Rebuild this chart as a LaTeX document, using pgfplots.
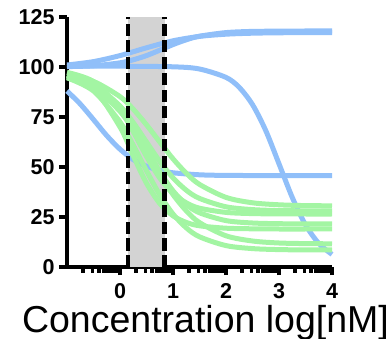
\documentclass[border=0pt]{standalone}
\usepackage{pgfplots}
\pgfplotsset{compat=1.18}
\usepackage{fontspec}
\setmainfont{Liberation Sans}
\definecolor{cblue}{RGB}{144,191,249}
\definecolor{cgreen}{RGB}{163,245,163}
\definecolor{cgray}{RGB}{211,211,211}
\begin{document}
\begin{tikzpicture}
\begin{axis}[
  scale only axis, width=265pt, height=250pt,
  xmin=-1, xmax=4, ymin=0, ymax=125,
  axis x line*=bottom, axis y line*=left,
  axis line style={line width=4.5pt, black},
  xtick={0,1,2,3,4},
  minor xtick={-0.699,-0.523,-0.398,-0.301,-0.222,-0.155,-0.097,-0.046,
    0.301,0.477,0.602,0.699,0.778,0.845,0.903,0.954,
    1.301,1.477,1.602,1.699,1.778,1.845,1.903,1.954,
    2.301,2.477,2.602,2.699,2.778,2.845,2.903,2.954,
    3.301,3.477,3.602,3.699,3.778,3.845,3.903,3.954},
  ytick={0,25,50,75,100,125},
  tick align=outside,
  major tick length=8pt, minor tick length=5.5pt,
  every tick/.style={line width=3.5pt, black},
  /pgf/number format/assume math mode=true,
  tick label style={font=\fontsize{21.5}{24}\selectfont\bfseries},
  xticklabel style={yshift=-5pt},
  yticklabel style={xshift=-1pt},
  xlabel={Concentration log[nM]},
  xlabel style={font=\fontsize{37.5}{40}\selectfont, at={(rel axis cs:0.5,0)}, anchor=base, yshift=-65pt, xshift=6pt},
  clip=false,
]
\addplot[draw=none, fill=cgray, forget plot] coordinates {(0.147,0) (0.844,0) (0.844,125) (0.147,125)} -- cycle;
% blue curves
\addplot[cblue, line width=5pt, smooth] coordinates {
(-1,101.0) (-0.5,102.7) (0,105.7) (0.5,109.6) (1,113.1) (1.5,115.3) (2,116.4) (2.5,116.9) (3,117.1) (3.5,117.2) (4,117.2)};
\addplot[cblue, line width=5pt, smooth] coordinates {
(-1,100.2) (-0.5,100.6) (0,102.1) (0.25,103.6) (0.5,105.7) (0.75,108.4) (1,111.2) (1.25,113.6) (1.5,115.4) (2,117.2) (2.5,117.8) (3,117.9) (3.5,118.0) (4,118.0)};
\addplot[cblue, line width=5pt, smooth] coordinates {
(-1,100.5) (0,100.4) (1,100.1) (1.5,99.0) (2,94.8) (2.25,89.8) (2.5,81.2) (2.75,68.2) (3,51.6) (3.25,34.8) (3.5,21.1) (3.75,11.8) (4,6.3)};
\addplot[cblue, line width=5pt, smooth] coordinates {
(-1,88.0) (-0.75,81.5) (-0.5,73.7) (-0.25,65.7) (0,58.9) (0.25,53.7) (0.5,50.4) (0.75,48.3) (1,47.1) (1.5,46.1) (2,45.8) (3,45.7) (4,45.7)};
% green curves
\addplot[cgreen, line width=5pt, smooth] coordinates {
(-1,96.1) (-0.5,92.8) (0,85.2) (0.25,78.9) (0.5,71.1) (0.75,62.5) (1,54.1) (1.25,46.9) (1.5,41.3) (2,34.8) (2.5,32.1) (3,31.1) (3.5,30.7) (4,30.6)};
\addplot[cgreen, line width=5pt, smooth] coordinates {
(-1,94.9) (-0.5,90.7) (0,80.4) (0.25,72.2) (0.5,62.5) (0.75,52.8) (1,44.6) (1.25,38.4) (1.5,34.3) (2,30.1) (2.5,28.7) (3,28.2) (3.5,28.1) (4,28.0)};
\addplot[cgreen, line width=5pt, smooth] coordinates {
(-1,97.3) (-0.5,92.7) (0,79.0) (0.25,67.7) (0.5,55.3) (0.75,44.5) (1,36.8) (1.25,32.1) (1.5,29.4) (2,27.3) (2.5,26.7) (3,26.55) (3.5,26.5) (4,26.5)};
\addplot[cgreen, line width=5pt, smooth] coordinates {
(-1,95.3) (-0.5,91.4) (0,80.4) (0.25,70.8) (0.5,59.25) (0.75,47.7) (1,38.1) (1.25,31.3) (1.5,27.1) (2,23.2) (2.5,22.0) (3,21.65) (3.5,21.55) (4,21.5)};
\addplot[cgreen, line width=5pt, smooth] coordinates {
(-1,95.9) (-0.5,89.3) (0,70.0) (0.25,55.6) (0.5,41.9) (0.75,31.8) (1,25.6) (1.25,22.3) (1.5,20.6) (2,19.4) (2.5,19.1) (3,19.0) (3.5,19.0) (4,19.0)};
\addplot[cgreen, line width=5pt, smooth] coordinates {
(-1,95.6) (-0.5,90.1) (0,77.8) (0.25,68.4) (0.5,57.5) (0.75,46.3) (1,36.2) (1.25,28.1) (1.5,22.2) (2,15.6) (2.5,13.0) (3,12.0) (3.5,11.7) (4,11.6)};
\addplot[cgreen, line width=5pt, smooth] coordinates {
(-1,94.6) (-0.5,88.0) (0,72.5) (0.25,60.9) (0.5,48.1) (0.75,36.1) (1,26.5) (1.25,19.6) (1.5,15.1) (2,10.7) (2.5,9.2) (3,8.7) (3.5,8.55) (4,8.5)};
% dashed boundaries
\addplot[black, line width=4.5pt, dash pattern=on 12pt off 4.5pt] coordinates {(0.147,0) (0.147,125)};
\addplot[black, line width=4.5pt, dash pattern=on 12pt off 4.5pt] coordinates {(0.844,0) (0.844,125)};
\end{axis}
\pgfresetboundingbox
\path[use as bounding box] (-67pt,-72pt) rectangle (323pt,267pt);
\end{tikzpicture}
\end{document}
